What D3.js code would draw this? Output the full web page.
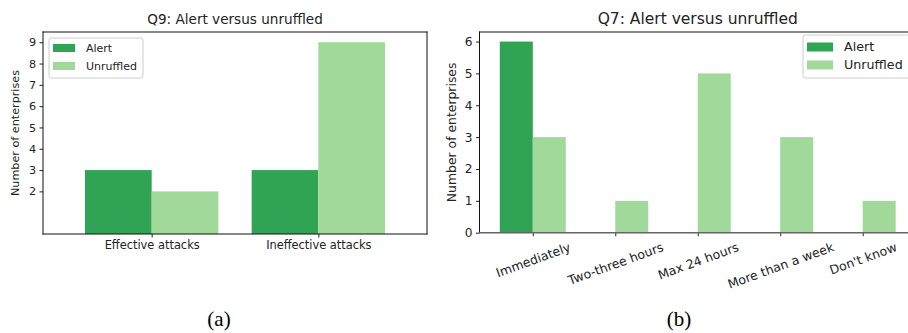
<!DOCTYPE html>
<html>
<head>
<meta charset="utf-8">
<script src="https://cdn.jsdelivr.net/npm/d3@7"></script>
<style>
  html, body { margin: 0; padding: 0; background: #fff; }
  svg { display: block; font-family: "DejaVu Sans", sans-serif; }
</style>
</head>
<body>
<svg id="fig" width="908" height="333"></svg>
<script>
// Survey answers: number of enterprises per answer, split by attitude
const seriesNames = ["Alert", "Unruffled"];

const q9Categories = ["Effective attacks", "Ineffective attacks"];
const q9Alert = [3, 3];
const q9Unruffled = [2, 9];
const q9YTicks = [2, 3, 4, 5, 6, 7, 8, 9];

const q7Categories = ["Immediately", "Two-three hours", "Max 24 hours", "More than a week", "Don't know"];
const q7Alert = [6, 0, 0, 0, 0];
const q7Unruffled = [3, 1, 5, 3, 1];
const q7YTicks = [0, 1, 2, 3, 4, 5, 6];

const colors = { Alert: "#31a354", Unruffled: "#a1d99b" };
const svg = d3.select("#fig");

function drawPanel(opt) {
  const { box, categories, series, yTicks, yMax, xPad, title, fonts } = opt;
  const g = svg.append("g");

  const x = d3.scaleLinear().domain([-xPad, categories.length - 1 + xPad]).range([box.x0, box.x1]);
  const y = d3.scaleLinear().domain([0, yMax]).range([box.y1, box.y0]);
  const barW = x(0.4) - x(0);

  // grouped bars: first series left of the tick, second right of it
  series.forEach((s, si) => {
    g.append("g").selectAll("rect")
      .data(s.values)
      .join("rect")
      .attr("x", (d, i) => x(i + (si === 0 ? -0.4 : 0)))
      .attr("width", barW)
      .attr("y", d => y(d))
      .attr("height", d => y(0) - y(d))
      .attr("fill", colors[s.name]);
  });

  // y axis
  const yAxis = g.append("g")
    .attr("transform", `translate(${box.x0},0)`)
    .call(d3.axisLeft(y).tickValues(yTicks).tickFormat(d3.format("d")).tickSize(3.5).tickSizeOuter(0).tickPadding(3.5));
  yAxis.select(".domain").remove();
  yAxis.selectAll("text").attr("font-size", fonts.ytick).attr("fill", "#222").attr("font-family", "DejaVu Sans");
  yAxis.selectAll("line").attr("stroke", "#222");

  // x axis
  const xAxis = g.append("g")
    .attr("transform", `translate(0,${box.y1})`)
    .call(d3.axisBottom(x).tickValues(d3.range(categories.length)).tickFormat(i => categories[i]).tickSize(3.5).tickSizeOuter(0).tickPadding(3.5));
  xAxis.select(".domain").remove();
  xAxis.selectAll("line").attr("stroke", "#222");
  const xt = xAxis.selectAll("text").attr("font-size", fonts.xtick).attr("fill", "#222").attr("font-family", "DejaVu Sans");

  if (opt.rotate) {
    const a = opt.rotate * Math.PI / 180;
    const h = fonts.xtick * 1.16;
    xt.each(function () {
      const w = this.getComputedTextLength();
      const bh = w * Math.sin(a) + h * Math.cos(a);
      d3.select(this)
        .attr("y", null)
        .attr("dy", "0.35em")
        .attr("text-anchor", "middle")
        .attr("transform", `translate(0,${7 + bh / 2}) rotate(${-opt.rotate})`);
    });
  }

  // spines
  const sp = g.append("g").attr("fill", "none");
  opt.spines.forEach(s => {
    const p = {
      left: [box.x0, box.y0, box.x0, box.y1],
      right: [box.x1, box.y0, box.x1, box.y1],
      top: [box.x0, box.y0, box.x1, box.y0],
      bottom: [box.x0, box.y1, box.x1, box.y1]
    }[s.side];
    sp.append("line")
      .attr("x1", p[0]).attr("y1", p[1]).attr("x2", p[2]).attr("y2", p[3])
      .attr("stroke", s.color).attr("stroke-width", s.width)
      .attr("stroke-linecap", "square");
  });

  // title
  g.append("text")
    .attr("x", (box.x0 + box.x1) / 2).attr("y", opt.titleY)
    .attr("text-anchor", "middle").attr("font-size", fonts.title).attr("fill", "#222")
    .text(title);

  // y label
  g.append("text")
    .attr("transform", `translate(${opt.ylabelX},${(box.y0 + box.y1) / 2}) rotate(-90)`)
    .attr("text-anchor", "middle").attr("dy", "0.35em")
    .attr("font-size", fonts.ylabel).attr("fill", "#222")
    .text("Number of enterprises");

  // legend
  const L = opt.legend;
  const lg = g.append("g");
  lg.append("rect")
    .attr("x", L.x).attr("y", L.y).attr("width", L.w).attr("height", L.h)
    .attr("rx", 2.5).attr("fill", "#fff").attr("fill-opacity", 0.8)
    .attr("stroke", "#cccccc").attr("stroke-width", 1);
  series.forEach((s, si) => {
    const cy = L.y + L.row0 + si * L.rowStep;
    lg.append("rect")
      .attr("x", L.x + L.patchDx).attr("y", cy - L.patchH / 2)
      .attr("width", L.patchW).attr("height", L.patchH)
      .attr("fill", colors[s.name]);
    lg.append("text")
      .attr("x", L.x + L.textDx).attr("y", cy).attr("dy", "0.35em")
      .attr("font-size", fonts.legend).attr("fill", "#222")
      .text(s.name);
  });
}

// (a) Q9
drawPanel({
  box: { x0: 43, x1: 427, y0: 32, y1: 234 },
  categories: q9Categories,
  series: [{ name: seriesNames[0], values: q9Alert }, { name: seriesNames[1], values: q9Unruffled }],
  yTicks: q9YTicks,
  yMax: 9.48,
  xPad: 0.652,
  title: "Q9: Alert versus unruffled",
  titleY: 23.5,
  ylabelX: 15,
  fonts: { title: 13.6, xtick: 11.4, ytick: 11.2, ylabel: 11.2, legend: 11 },
  spines: [
    { side: "left", color: "#111", width: 1 },
    { side: "right", color: "#111", width: 1 },
    { side: "top", color: "#111", width: 1 },
    { side: "bottom", color: "#111", width: 1 }
  ],
  legend: { x: 49, y: 38, w: 94, h: 40, row0: 10, rowStep: 18, patchDx: 4, patchW: 22, patchH: 8, textDx: 37 }
});

// (b) Q7
drawPanel({
  box: { x0: 479.5, x1: 916, y0: 32, y1: 232.7 },
  categories: q7Categories,
  series: [{ name: seriesNames[0], values: q7Alert }, { name: seriesNames[1], values: q7Unruffled }],
  yTicks: q7YTicks,
  yMax: 6.3,
  xPad: 0.646,
  rotate: 20,
  title: "Q7: Alert versus unruffled",
  titleY: 24,
  ylabelX: 452,
  fonts: { title: 15.5, xtick: 12.5, ytick: 12.2, ylabel: 12.4, legend: 12.7 },
  spines: [
    { side: "left", color: "#111", width: 1 },
    { side: "top", color: "#111", width: 1 },
    { side: "bottom", color: "#666", width: 1.6 }
  ],
  legend: { x: 803, y: 35, w: 107, h: 43, row0: 12, rowStep: 18, patchDx: 4, patchW: 26, patchH: 9, textDx: 41 }
});

// sub-figure captions
svg.append("g")
  .selectAll("text")
  .data([{ t: "(a)", x: 219 }, { t: "(b)", x: 679 }])
  .join("text")
  .attr("x", d => d.x).attr("y", 326)
  .attr("text-anchor", "middle")
  .attr("font-family", "'Liberation Serif', 'Times New Roman', serif")
  .attr("font-size", 21)
  .attr("fill", "#000")
  .text(d => d.t);
</script>
</body>
</html>
